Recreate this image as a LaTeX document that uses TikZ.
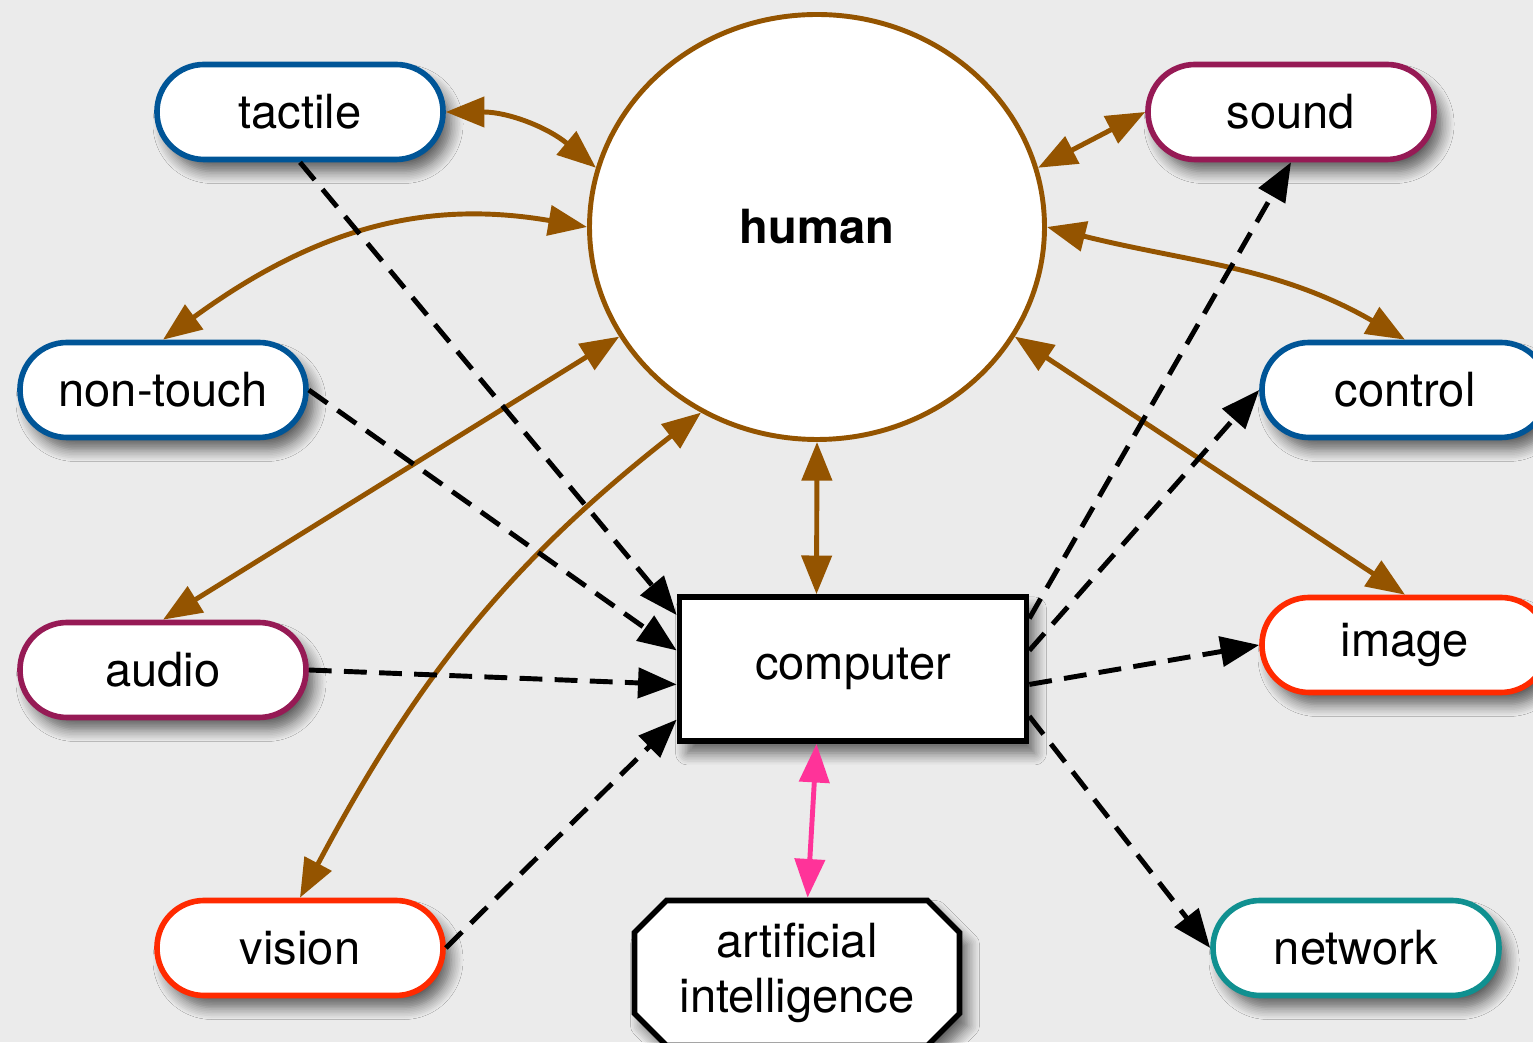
\documentclass[tikz,border=0pt]{standalone}
\usepackage{fontspec}
\setmainfont{TeX Gyre Heros}
\usetikzlibrary{arrows.meta, shapes.misc, shapes.geometric, shadows.blur, calc}

\definecolor{bggray}{HTML}{EBEBEB}
\definecolor{linkbrown}{HTML}{945400}
\definecolor{aipink}{HTML}{FF3399}
\definecolor{pillblue}{HTML}{005597}
\definecolor{pillwine}{HTML}{961A55}
\definecolor{pillred}{HTML}{FF2A00}
\definecolor{pillteal}{HTML}{109090}

\tikzset{
    my-shadow/.style={
        blur shadow={shadow xshift=0.8mm, shadow yshift=-1.2mm, shadow blur steps=8, shadow blur radius=1.2mm, shadow opacity=60}
    },
    my-pill/.style={
        draw=#1, fill=white, line width=1.6pt, rounded corners=4.7mm,
        minimum width=2.86cm, minimum height=0.95cm, my-shadow
    },
    my-human/.style={
        ellipse, draw=linkbrown, fill=white, line width=1.4pt,
        minimum width=4.55cm, minimum height=4.25cm
    },
    my-computer/.style={
        rectangle, draw, fill=white, line width=1.6pt,
        minimum width=3.47cm, minimum height=1.44cm, my-shadow
    },
    my-ai/.style={
        chamfered rectangle, chamfered rectangle xsep=1.6mm, chamfered rectangle ysep=1.6mm,
        inner sep=0pt, draw, fill=white, line width=1.6pt, align=center,
        minimum width=3.25cm, minimum height=1.45cm, my-shadow
    },
    my-human-link/.style={draw=linkbrown, line width=1.4pt},
    my-data-link/.style={draw=black, line width=1.4pt, dash pattern=on 6.5pt off 3.5pt},
    my-ai-link/.style={draw=aipink, line width=1.4pt},
}

\begin{document}
\begin{tikzpicture}[>={Triangle[length=11pt,width=8.5pt]}, font=\fontsize{13.4}{15.5}\selectfont]

        % BACKGROUND
        \fill[bggray] (0,0) rectangle (15.33,10.42);
        \useasboundingbox (0,0) rectangle (15.33,10.42);

        % HUMAN, COMPUTER AND AI
        \node[my-human]    (human)    at (8.17,8.15) {\textbf{human}};
        \node[my-computer] (computer) at (8.53,3.73) {computer};
        \node[my-ai]       (ai)       at (7.97,0.69) {artificial\\intelligence};

        % INPUT MODALITIES
        \node[my-pill=pillblue] (tactile)  at (3.00,9.30) {tactile};
        \node[my-pill=pillblue] (nontouch) at (1.63,6.52) {non-touch};
        \node[my-pill=pillwine] (audio)    at (1.63,3.72) {audio};
        \node[my-pill=pillred]  (vision)   at (3.00,0.94) {vision};

        % OUTPUT MODALITIES
        \node[my-pill=pillwine] (sound)    at (12.91,9.30) {sound};
        \node[my-pill=pillblue] (control)  at (14.05,6.52) {control};
        \node[my-pill=pillred]  (image)    at (14.05,3.97) {image};
        \node[my-pill=pillteal] (network)  at (13.56,0.94) {network};

        % HUMAN CONNECTIONS
        \draw[my-human-link, <->] (tactile.east) to[out=0, in=140] (human.165);
        \draw[my-human-link, <->] (human.180) .. controls (4.30,8.42) and (3.20,8.17) .. (nontouch.north);
        \draw[my-human-link, <->] (human.209) -- (audio.north);
        \draw[my-human-link, <->] (human.238) to[out=218, in=62] (vision.north);
        \draw[my-human-link, <->] (human.15) -- (sound.west);
        \draw[my-human-link, <->] (human.0) to[out=-14, in=150] (control.north);
        \draw[my-human-link, <->] (human.331) -- (image.north);
        \draw[my-human-link, <->] (human.270) -- (computer.116);

        % COMPUTER INPUTS
        \draw[my-data-link, ->] (tactile.south)  -- (computer.163);
        \draw[my-data-link, ->] (nontouch.east)  -- (computer.174);
        \draw[my-data-link, ->] (audio.east)     -- (computer.185);
        \draw[my-data-link, ->] (vision.east)    -- (computer.196);

        % COMPUTER OUTPUTS
        \draw[my-data-link, ->] (computer.16)  -- (sound.south);
        \draw[my-data-link, ->] (computer.6)   -- (control.west);
        \draw[my-data-link, ->] (computer.355) -- (image.west);
        \draw[my-data-link, ->] (computer.345) -- (network.west);

        % AI CONNECTION
        \draw[my-ai-link, <->] (computer.244) -- (ai.82);

    \end{tikzpicture}
\end{document}
